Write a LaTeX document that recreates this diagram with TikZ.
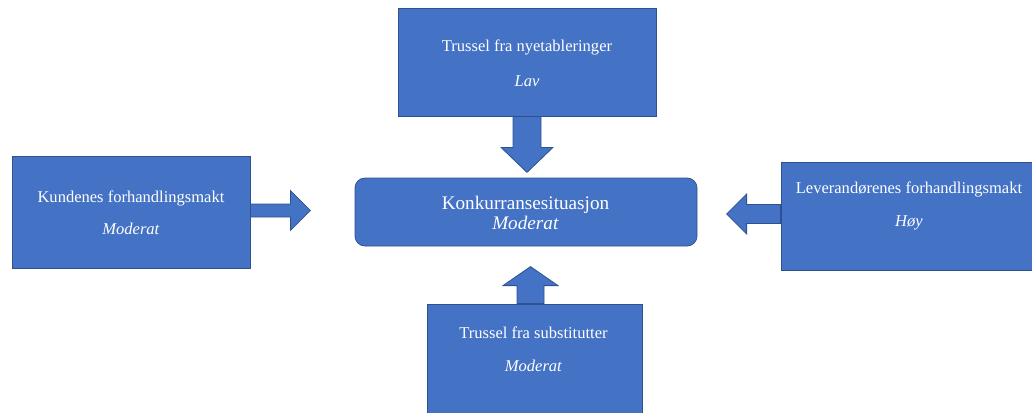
\documentclass[tikz,border=0pt]{standalone}
\usepackage{fontspec}
\setmainfont{Liberation Serif}
\usetikzlibrary{calc}
\definecolor{boxblue}{HTML}{4472C4}
\definecolor{edgeblue}{HTML}{2F528F}
\begin{document}
\begin{tikzpicture}[x=0.75pt,y=-0.75pt,
  box/.style={draw=edgeblue, line width=0.6pt, fill=boxblue, inner sep=0pt},
  txt/.style={text=white, align=center, inner sep=0pt, font=\fontsize{12.4}{14.9}\selectfont},
  ctxt/.style={text=white, align=center, inner sep=0pt, font=\fontsize{14.4}{15}\selectfont},
  blockarrow/.style={draw=edgeblue, line width=0.6pt, fill=boxblue, line join=miter}]
\useasboundingbox (0,0) rectangle (1032,412);
\clip (0,0) rectangle (1032,412);
% boxes
\node[box, minimum width=193.5pt, minimum height=81pt] (top) at (527,62) {};
\node[box, minimum width=178.5pt, minimum height=84pt] (left) at (131,212) {};
\node[box, rounded corners=7.5pt, minimum width=256.5pt, minimum height=51pt] (center) at (526,212) {};
\node[box, minimum width=198pt, minimum height=81pt] (right) at (913,216) {};
\node[box, minimum width=161.25pt, minimum height=87pt] (bottom) at (534.5,362) {};
% texts
\node[txt] (toptxt) at (527,63) {Trussel fra nyetableringer\\[11pt]\textit{Lav}};
\node[txt] (lefttxt) at (131,213) {Kundenes forhandlingsmakt\\[9pt]\textit{Moderat}};
\node[ctxt] (centertxt) at (525.5,213) {Konkurransesituasjon\\\textit{Moderat}};
\node[txt] (righttxt) at (909,206) {Leverandørenes forhandlingsmakt\\[10.5pt]\textit{Høy}};
\node[txt] (bottomtxt) at (533.5,349.5) {Trussel fra substitutter\\[10pt]\textit{Moderat}};
% block arrows
\draw[blockarrow] ($(top.south)+(-14,0)$) -- ($(top.south)+(-14,31)$) -- ($(top.south)+(-26,31)$)
  -- ($(top.south)+(0,56)$) -- ($(top.south)+(26,31)$) -- ($(top.south)+(14,31)$) -- ($(top.south)+(14,0)$) -- cycle;
\draw[blockarrow] ($(left.east)+(0,-8)$) -- ($(left.east)+(40,-8)$) -- ($(left.east)+(40,-21.5)$)
  -- ($(left.east)+(60,-1.5)$) -- ($(left.east)+(40,18.5)$) -- ($(left.east)+(40,5)$) -- ($(left.east)+(0,5)$) -- cycle;
\draw[blockarrow] ($(right.west)+(0,-11.5)$) -- ($(right.west)+(-34,-11.5)$) -- ($(right.west)+(-34,-22)$)
  -- ($(right.west)+(-54,-2)$) -- ($(right.west)+(-34,18)$) -- ($(right.west)+(-34,7.5)$) -- ($(right.west)+(0,7.5)$) -- cycle;
\draw[blockarrow] ($(bottom.north)+(-17.5,0)$) -- ($(bottom.north)+(-17.5,-18)$) -- ($(bottom.north)+(-31.5,-18)$)
  -- ($(bottom.north)+(-4,-37)$) -- ($(bottom.north)+(23.5,-18)$) -- ($(bottom.north)+(9.5,-18)$) -- ($(bottom.north)+(9.5,0)$) -- cycle;
\end{tikzpicture}
\end{document}
